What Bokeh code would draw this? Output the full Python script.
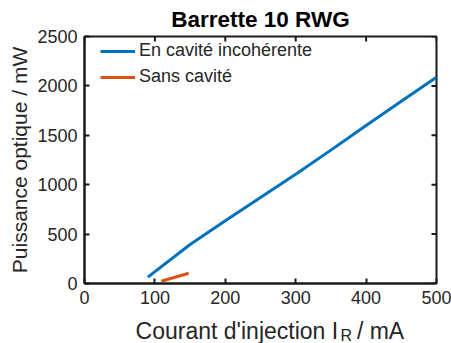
import math
from bokeh.plotting import figure
from bokeh.layouts import column
from bokeh.models import Label, Range1d, FixedTicker, Legend, LegendItem
from bokeh.embed import file_html
from bokeh.resources import INLINE

# ---- data ----
cur_cavity = [90, 150, 200, 250, 300, 350, 400, 450, 500]
pow_cavity = [65, 395, 635, 870, 1105, 1350, 1600, 1845, 2088]
cur_nocav = [109, 148]
pow_nocav = [23, 104]
x_ticks = [0, 100, 200, 300, 400, 500]
y_ticks = [0, 500, 1000, 1500, 2000, 2500]
title_text = "Barrette 10 RWG"
ylabel_text = "Puissance optique / mW"
xlabel_main = "Courant d'injection I"
xlabel_sub = "R"
xlabel_tail = "/ mA"
legend_labels = ["En cavité incohérente", "Sans cavité"]

FONT = "Liberation Sans"
TXT = "#262626"
AX = "#1a1a1a"
W = 451
H_MAIN = 312
H_XLAB = 31

p = figure(width=W, height=H_MAIN, output_backend="svg", toolbar_location=None,
           x_range=Range1d(x_ticks[0], x_ticks[-1]), y_range=Range1d(y_ticks[0], y_ticks[-1]),
           min_border_left=84, min_border_right=15, min_border_top=36, min_border_bottom=29,
           background_fill_color="white", border_fill_color="white")
p.xgrid.visible = False
p.ygrid.visible = False
p.outline_line_color = AX
p.outline_line_width = 2

p.title.text = title_text
p.title.align = "center"
p.title.text_font = FONT
p.title.text_font_size = "22.5px"
p.title.text_font_style = "bold"
p.title.text_color = "black"
p.title.standoff = 9

xa = p.xaxis[0]
ya = p.yaxis[0]
xa.ticker = FixedTicker(ticks=x_ticks)
ya.ticker = FixedTicker(ticks=y_ticks)
for ax in (xa, ya):
    ax.axis_line_color = AX
    ax.axis_line_width = 2
    ax.major_tick_in = 5
    ax.major_tick_out = 0
    ax.major_tick_line_color = AX
    ax.major_tick_line_width = 2
    ax.minor_tick_line_color = None
    ax.major_label_text_font = FONT
    ax.major_label_text_color = TXT
    ax.major_label_text_font_size = "18px"
xa.major_label_standoff = 7
ya.major_label_standoff = 7

ya.axis_label = ylabel_text
ya.axis_label_text_font = FONT
ya.axis_label_text_font_size = "21px"
ya.axis_label_text_font_style = "normal"
ya.axis_label_text_color = TXT
ya.axis_label_standoff = 3

# inward ticks on the top and right edges (half of each dash is clipped by the frame)
p.scatter(x=x_ticks, y=[y_ticks[-1]] * len(x_ticks), marker="dash", angle=math.pi / 2,
          size=10, line_color=AX, line_width=2)
p.scatter(x=[x_ticks[-1]] * len(y_ticks), y=y_ticks, marker="dash",
          size=10, line_color=AX, line_width=2)

r1 = p.line(cur_cavity, pow_cavity, line_color="#0072BD", line_width=3)
r2 = p.line(cur_nocav, pow_nocav, line_color="#D95319", line_width=3)

legend = Legend(items=[LegendItem(label=legend_labels[0], renderers=[r1]),
                       LegendItem(label=legend_labels[1], renderers=[r2])],
                location=(16, 196), padding=0, margin=0, spacing=5,
                glyph_width=35, glyph_height=20, label_height=20, label_standoff=4,
                label_text_font=FONT, label_text_font_size="18px", label_text_color=TXT,
                border_line_color=None, background_fill_alpha=0)
p.add_layout(legend)

# x-axis label strip (a bare figure under the plot, so the subscript can be drawn as text)
q = figure(width=W, height=H_XLAB, output_backend="svg", toolbar_location=None,
           x_range=Range1d(0, W), y_range=Range1d(0, H_XLAB),
           x_axis_location=None, y_axis_location=None, min_border=0,
           outline_line_color=None, background_fill_color="white", border_fill_color="white")
q.xgrid.visible = False
q.ygrid.visible = False
common = dict(text_font=FONT, text_color=TXT, text_baseline="alphabetic")
q.add_layout(Label(x=325, y=13, text=xlabel_main, text_align="right", text_font_size="23px", **common))
q.add_layout(Label(x=328, y=8, text=xlabel_sub, text_align="left", text_font_size="16px", **common))
q.add_layout(Label(x=349, y=13, text=xlabel_tail, text_align="left", text_font_size="23px", **common))

layout = column(p, q, spacing=0)
open("out.html", "w").write(file_html(layout, INLINE))
